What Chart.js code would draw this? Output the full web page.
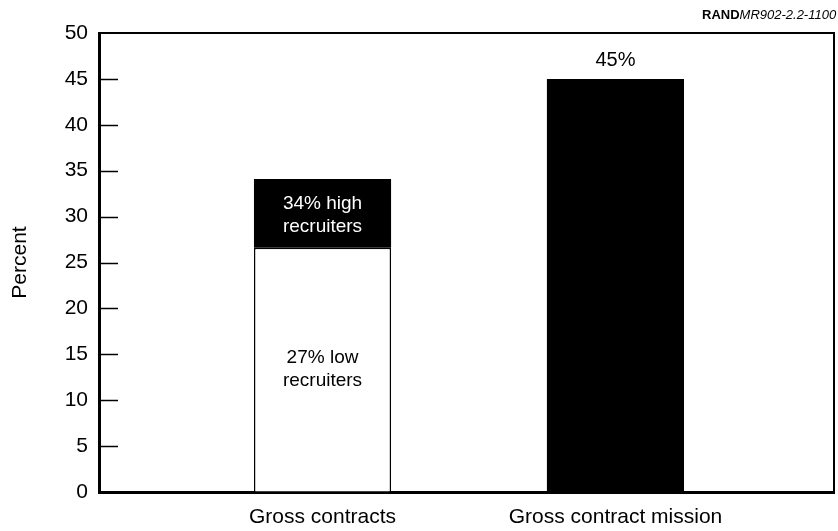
<!DOCTYPE html>
<html>
<head>
<meta charset="utf-8">
<script src="https://cdn.jsdelivr.net/npm/chart.js@4/dist/chart.umd.min.js"></script>
<style>
  html, body { margin: 0; padding: 0; background: #fff; }
  #wrap { position: relative; width: 838px; height: 531px; }
</style>
</head>
<body>
<div id="wrap"><canvas id="c" width="838" height="531"></canvas></div>
<script>
// ---- data ----
const categories = ['Gross contracts', 'Gross contract mission'];
const categoryPositions = [1, 2];
const lowRecruiters = [26.6, null];
const highRecruiters = [7.5, null];     // stacked on top of low: total ~34
const contractMission = [null, 45];
const lowLabel = ['27% low', 'recruiters'];
const highLabel = ['34% high', 'recruiters'];
const missionLabel = ['45%'];
const yTicks = [0, 5, 10, 15, 20, 25, 30, 35, 40, 45, 50];
const yTitle = 'Percent';
const sourceBold = 'RAND';
const sourceItalic = 'MR902-2.2-1100';

const FONT = "'Liberation Sans', Arial, Helvetica, sans-serif";

function toPoints(values) {
  return values.map((v, i) => ({ x: categoryPositions[i], y: v })).filter(p => p.y !== null);
}

const framePlugin = {
  id: 'frame',
  afterDraw(chart) {
    const { ctx, chartArea: a } = chart;
    const y = chart.scales.y;
    ctx.save();
    ctx.strokeStyle = '#000';
    // top & right border
    ctx.lineWidth = 2;
    ctx.beginPath();
    ctx.moveTo(a.left, a.top);
    ctx.lineTo(a.right, a.top);
    ctx.lineTo(a.right, a.bottom);
    ctx.stroke();
    // inward tick marks
    ctx.lineWidth = 1.5;
    yTicks.forEach(v => {
      if (v === 0 || v === 50) return;
      const py = Math.round(y.getPixelForValue(v)) + 0.5;
      ctx.beginPath();
      ctx.moveTo(a.left, py);
      ctx.lineTo(a.left + 19, py);
      ctx.stroke();
    });
    // source label
    ctx.fillStyle = '#000';
    ctx.textBaseline = 'alphabetic';
    ctx.textAlign = 'left';
    ctx.font = 'bold 13px ' + FONT;
    const x0 = 702;
    ctx.fillText(sourceBold, x0, 19);
    const w = ctx.measureText(sourceBold).width;
    ctx.font = 'italic 13px ' + FONT;
    ctx.fillText(sourceItalic, x0 + w, 19);
    ctx.restore();
  }
};

const labelPlugin = {
  id: 'barLabels',
  afterDatasetsDraw(chart) {
    const { ctx } = chart;
    const lh = 23;
    ctx.save();
    ctx.textAlign = 'center';
    ctx.textBaseline = 'middle';
    ctx.font = '19px ' + FONT;
    const drawLines = (lines, cx, cy, color) => {
      ctx.fillStyle = color;
      const start = cy - (lines.length - 1) * lh / 2;
      lines.forEach((t, i) => ctx.fillText(t, cx, start + i * lh));
    };
    const lowEl = chart.getDatasetMeta(0).data[0];
    drawLines(lowLabel, lowEl.x, (lowEl.y + lowEl.base) / 2, '#000');
    const highEl = chart.getDatasetMeta(1).data[0];
    drawLines(highLabel, highEl.x, (highEl.y + highEl.base) / 2 + 2, '#fff');
    const mEl = chart.getDatasetMeta(2).data[0];
    ctx.font = '20px ' + FONT;
    drawLines(missionLabel, mEl.x, mEl.y - 18, '#000');
    ctx.restore();
  }
};

new Chart(document.getElementById('c'), {
  type: 'bar',
  data: {
    datasets: [
      { label: 'Low recruiters', data: toPoints(lowRecruiters), backgroundColor: '#fff',
        borderColor: '#000', borderWidth: 1.5, borderSkipped: 'bottom' },
      { label: 'High recruiters', data: toPoints(highRecruiters), backgroundColor: '#000',
        borderColor: '#000', borderWidth: 0 },
      { label: 'Gross contract mission', data: toPoints(contractMission), backgroundColor: '#000',
        borderColor: '#000', borderWidth: 0 }
    ]
  },
  options: {
    responsive: false,
    animation: false,
    events: [],
    layout: { padding: { top: 33, right: 4, left: 0, bottom: 0 } },
    datasets: { bar: { barPercentage: 0.468, categoryPercentage: 1 } },
    plugins: { legend: { display: false }, tooltip: { enabled: false } },
    scales: {
      x: {
        type: 'linear',
        stacked: true,
        offset: false,
        min: 0.237,
        max: 2.746,
        afterBuildTicks(scale) { scale.ticks = categoryPositions.map(v => ({ value: v })); },
        afterFit(scale) { scale.height = 39; },
        grid: { display: true, drawOnChartArea: false, drawTicks: false, offset: false },
        border: { display: true, width: 3, color: '#000' },
        ticks: {
          padding: 13,
          color: '#000',
          font: { family: FONT, size: 21 },
          maxRotation: 0,
          autoSkip: false,
          callback: (v) => categories[categoryPositions.indexOf(v)] || ''
        }
      },
      y: {
        stacked: true,
        min: 0,
        max: 50,
        afterBuildTicks(scale) { scale.ticks = yTicks.map(v => ({ value: v })); },
        afterFit(scale) { scale.width = 99; },
        grid: { display: true, drawOnChartArea: false, drawTicks: false },
        border: { display: true, width: 3, color: '#000' },
        ticks: { padding: 11, color: '#000', font: { family: FONT, size: 21 } },
        title: {
          display: true, text: yTitle, color: '#000',
          font: { family: FONT, size: 21 },
          padding: { top: 8, bottom: 0 }
        }
      }
    }
  },
  plugins: [framePlugin, labelPlugin]
});
</script>
</body>
</html>
